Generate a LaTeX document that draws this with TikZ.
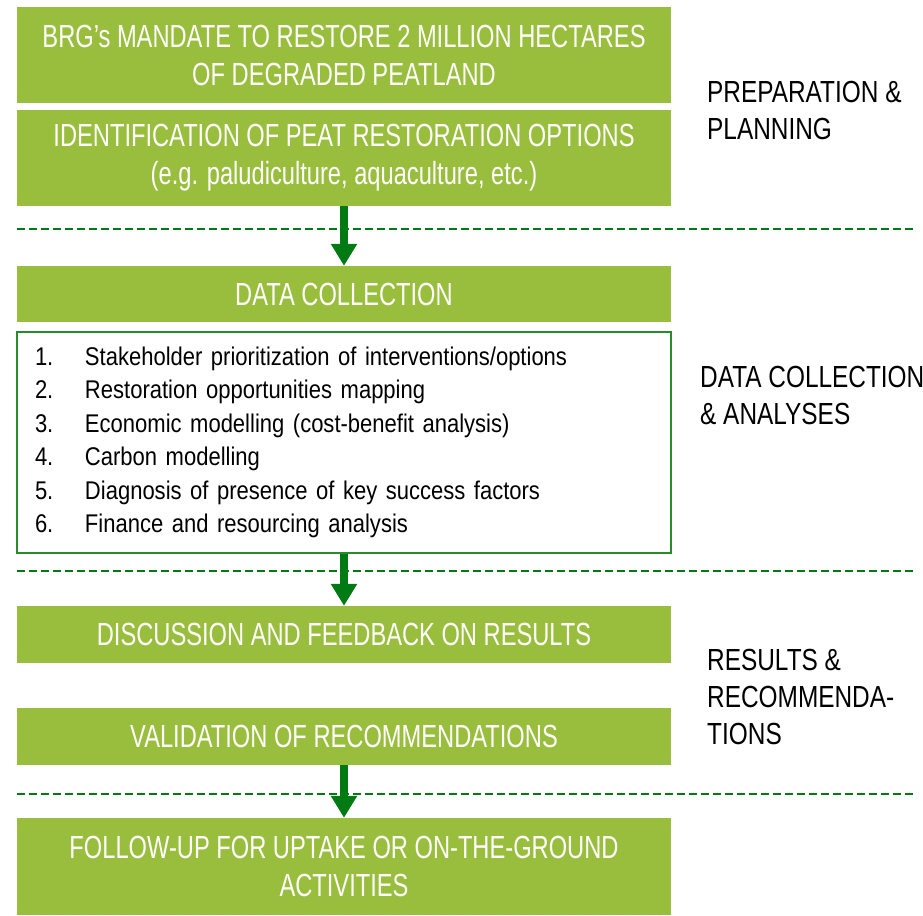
\documentclass[tikz,border=0pt]{standalone}
\usepackage{fontspec}
\setmainfont[FakeStretch=0.8]{Liberation Sans}
\newfontfamily\stagefont[FakeStretch=0.74]{Liberation Sans}
\newfontfamily\listfont[FakeStretch=0.86]{Liberation Sans}
\usetikzlibrary{arrows.meta}

\definecolor{boxgreen}{RGB}{153,190,61}
\definecolor{darkgreen}{RGB}{0,122,18}
\definecolor{framegreen}{RGB}{40,140,40}

\begin{document}
\begin{tikzpicture}[x=1pt,y=-1pt,
    stage/.style={fill=boxgreen,text=white,minimum width=654pt,inner sep=0pt,
        align=center,font=\stagefont\fontsize{32}{38}\selectfont},
    phase/.style={anchor=west,align=left,inner sep=0pt,font=\fontsize{30.5}{37}\selectfont},
    flow/.style={draw=darkgreen,line width=8pt,-{Triangle[length=22pt,width=25pt]}},
    divider/.style={darkgreen,line width=2.5pt,dash pattern=on 8pt off 4pt}]

    \useasboundingbox (0,0) rectangle (923,915);

    % stage boxes
    \node[stage,minimum height=96pt] (mandate) at (344,55)
        {BRG’s MANDATE TO RESTORE 2 MILLION HECTARES\\OF DEGRADED PEATLAND};
    \node[stage,minimum height=96pt] (options) at (344,158)
        {IDENTIFICATION OF PEAT RESTORATION OPTIONS\\(e.g. paludiculture, aquaculture, etc.)};
    \node[stage,minimum height=56pt] (datacoll) at (344,294) {DATA COLLECTION};
    \node[draw=framegreen,line width=1.5pt,minimum height=221pt,text width=618pt,
        inner xsep=18pt,inner ysep=0pt,align=left,font=\listfont\fontsize{25.6}{33.5}\selectfont]
        (steps) at (344,442.5) {%
        \begin{tabular}{@{}p{50pt}@{}l@{}}
            1. & Stakeholder prioritization of interventions/options\\
            2. & Restoration opportunities mapping\\
            3. & Economic modelling (cost-benefit analysis)\\
            4. & Carbon modelling\\
            5. & Diagnosis of presence of key success factors\\
            6. & Finance and resourcing analysis
        \end{tabular}};
    \node[stage,minimum height=57pt] (feedback) at (344,634.5) {DISCUSSION AND FEEDBACK ON RESULTS};
    \node[stage,minimum height=57pt] (validation) at (344,736.5) {VALIDATION OF RECOMMENDATIONS};
    \node[stage,minimum height=97pt] (followup) at (344,866.5)
        {FOLLOW-UP FOR UPTAKE OR ON-THE-GROUND\\ACTIVITIES};

    % phase labels
    \node[phase] (prep) at (707,111) {PREPARATION \&\\PLANNING};
    \node[phase] (analyses) at (700,395) {DATA COLLECTION\\\& ANALYSES};
    \node[phase] (results) at (707,697) {RESULTS \&\\RECOMMENDA-\\TIONS};

    % dividers
    \coordinate (div1a) at (17,229);  \coordinate (div1b) at (913,229);
    \coordinate (div2a) at (17,571);  \coordinate (div2b) at (913,571);
    \coordinate (div3a) at (17,794);  \coordinate (div3b) at (913,794);
    \draw[divider] (div1a) -- (div1b);
    \draw[divider] (div2a) -- (div2b);
    \draw[divider] (div3a) -- (div3b);

    % arrows
    \draw[flow] (options.south) -- (datacoll.north);
    \draw[flow] (steps.south) -- (feedback.north);
    \draw[flow] (validation.south) -- (followup.north);

\end{tikzpicture}
\end{document}
